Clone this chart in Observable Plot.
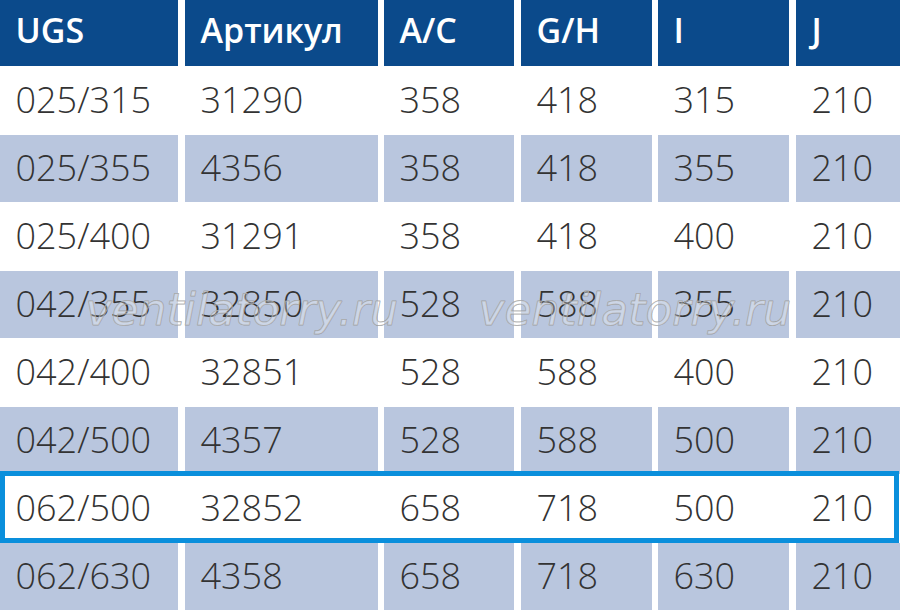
<!DOCTYPE html>
<html>
<head>
<meta charset="utf-8">
<script src="https://cdn.jsdelivr.net/npm/d3@7"></script>
<script src="https://cdn.jsdelivr.net/npm/@observablehq/plot@0.6"></script>
<style>
  html, body { margin: 0; padding: 0; background: #fff; }
  #chart svg { display: block; }
</style>
</head>
<body>
<div id="chart"></div>
<script>
// ---- data ----
const columns = ["UGS", "Артикул", "A/C", "G/H", "I", "J"];
const ugs     = ["025/315", "025/355", "025/400", "042/355", "042/400", "042/500", "062/500", "062/630"];
const artikul = ["31290", "4356", "31291", "32850", "32851", "4357", "32852", "4358"];
const acVals  = [358, 358, 358, 528, 528, 528, 658, 658];
const ghVals  = [418, 418, 418, 588, 588, 588, 718, 718];
const iVals   = [315, 355, 400, 355, 400, 500, 500, 630];
const jVals   = [210, 210, 210, 210, 210, 210, 210, 210];
const highlightedRow = "062/500";
const watermarkText = "ventilatorry.ru";

// ---- layout config (cell edges in px along x) ----
const colLeft  = [0, 185, 384, 521, 658, 796];
const colRight = [178, 378, 514, 652, 789, 900];
const textPad = 15;

const series = [ugs, artikul, acVals, ghVals, iVals, jVals];

const headerCells = columns.map((c, i) => ({col: c, x1: colLeft[i], x2: colRight[i], row: "header"}));
const bodyCells = [];
ugs.forEach((r, ri) => {
  columns.forEach((c, ci) => {
    bodyCells.push({
      row: r,
      rowIndex: ri,
      col: c,
      x1: colLeft[ci],
      x2: colRight[ci],
      tx: colLeft[ci] + textPad,
      value: String(series[ci][ri])
    });
  });
});
const shaded = bodyCells.filter(d => d.rowIndex % 2 === 1 && d.row !== highlightedRow);
const headerText = headerCells.map((d, i) => ({...d, tx: colLeft[i] + textPad}));
const watermarks = [{x: 85, row: "042/355"}, {x: 478, row: "042/355"}];
const highlight = [{row: highlightedRow, x1: 2.5, x2: 896.5}];

const chart = Plot.plot({
  width: 900,
  height: 614,
  margin: 0,
  style: {background: "white", fontFamily: "'Open Sans', sans-serif"},
  x: {type: "linear", domain: [0, 900], range: [0, 900], axis: null},
  y: {type: "band", domain: ["header", ...ugs], range: [-1, 611], paddingInner: 0, paddingOuter: 0, axis: null},
  marks: [
    Plot.barX(headerCells, {x1: "x1", x2: "x2", y: "row", fill: "#0b4a8b", insetBottom: 1}),
    Plot.barX(shaded, {x1: "x1", x2: "x2", y: "row", fill: "#b9c6de", insetBottom: 1}),
    Plot.text(headerText, {
      x: "tx", y: "row", text: "col", textAnchor: "start",
      fill: "white", fontSize: 34, fontWeight: 600, dy: -1
    }),
    Plot.text(bodyCells, {
      x: "tx", y: "row", text: "value", textAnchor: "start",
      fill: "#333333", fontSize: 36, fontWeight: 300
    }),
    Plot.text(watermarks, {
      x: "x", y: "row", text: () => watermarkText, textAnchor: "start",
      fontFamily: "'DejaVu Sans', sans-serif", fontStyle: "oblique", fontWeight: 200,
      fontSize: 44, fill: "white", fillOpacity: 0.3, stroke: "#9a9a9a", strokeOpacity: 0.9,
      strokeWidth: 1, dy: 5
    }),
    Plot.barX(highlight, {
      x1: "x1", x2: "x2", y: "row", fill: "none", stroke: "#0a8fdc", strokeWidth: 5,
      insetTop: -1.5, insetBottom: 2.5
    })
  ]
});
document.getElementById("chart").appendChild(chart);
</script>
</body>
</html>
